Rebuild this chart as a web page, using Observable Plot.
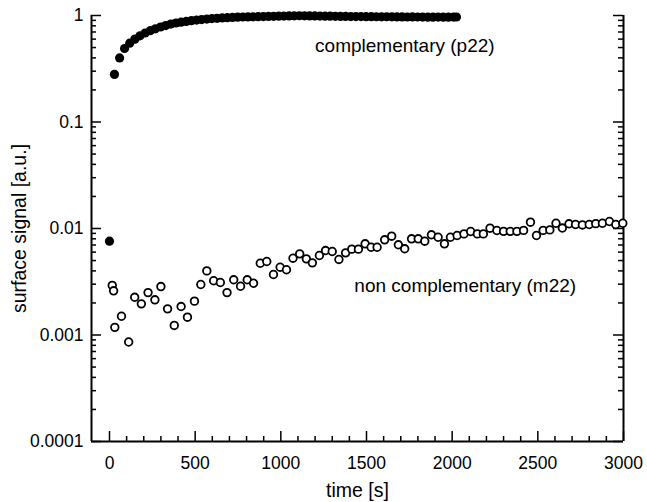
<!DOCTYPE html>
<html>
<head>
<meta charset="utf-8">
<script src="https://cdn.jsdelivr.net/npm/d3@7"></script>
<script src="https://cdn.jsdelivr.net/npm/@observablehq/plot@0.6"></script>
<style>
  html, body { margin: 0; padding: 0; background: #fff; }
</style>
</head>
<body>
<div id="chart"></div>
<script>
// ---- data ----
const compTime = [0, 29, 59, 88, 118, 148, 178, 208, 238, 268, 298, 328, 358, 388, 418, 448, 478, 508, 538, 568, 598, 628, 658, 688, 718, 748, 778, 808, 838, 868, 898, 928, 958, 988, 1018, 1048, 1078, 1108, 1138, 1168, 1198, 1228, 1258, 1288, 1318, 1348, 1378, 1408, 1438, 1468, 1498, 1528, 1558, 1588, 1618, 1648, 1678, 1708, 1738, 1768, 1798, 1828, 1858, 1888, 1918, 1948, 1978, 2008, 2025];
const compSignal = [0.0076, 0.28, 0.40, 0.49, 0.55, 0.60, 0.645, 0.685, 0.72, 0.75, 0.78, 0.805, 0.83, 0.85, 0.865, 0.88, 0.895, 0.905, 0.915, 0.925, 0.935, 0.94, 0.948, 0.955, 0.96, 0.965, 0.968, 0.97, 0.972, 0.975, 0.978, 0.98, 0.982, 0.985, 0.988, 0.99, 0.992, 0.995, 0.993, 0.99, 0.99, 0.988, 0.985, 0.985, 0.983, 0.98, 0.98, 0.978, 0.977, 0.978, 0.975, 0.975, 0.973, 0.972, 0.973, 0.972, 0.97, 0.97, 0.968, 0.97, 0.968, 0.967, 0.965, 0.965, 0.966, 0.965, 0.965, 0.966, 0.968];

const nonTime = [16, 24, 31, 70, 112, 147, 186, 225, 265, 300, 339, 378, 418, 455, 496, 533, 568, 608, 647, 686, 725, 765, 804, 841, 880, 918, 957, 996, 1033, 1071, 1110, 1149, 1184, 1225, 1261, 1300, 1339, 1378, 1414, 1453, 1492, 1527, 1562, 1606, 1647, 1686, 1723, 1763, 1802, 1840, 1879, 1918, 1955, 1990, 2029, 2069, 2108, 2147, 2182, 2221, 2261, 2300, 2339, 2378, 2417, 2457, 2492, 2531, 2570, 2606, 2643, 2682, 2720, 2760, 2800, 2838, 2877, 2918, 2955, 2996];
const nonSignal = [0.00292, 0.0026, 0.00118, 0.0015, 0.00086, 0.00226, 0.00196, 0.0025, 0.00214, 0.00285, 0.00176, 0.00123, 0.00185, 0.00147, 0.00208, 0.00298, 0.0040, 0.00323, 0.00311, 0.0025, 0.0033, 0.00287, 0.0033, 0.00306, 0.00472, 0.0049, 0.0037, 0.00433, 0.0041, 0.00526, 0.00578, 0.00519, 0.00476, 0.00558, 0.00621, 0.00608, 0.00512, 0.00591, 0.0064, 0.0064, 0.00718, 0.00667, 0.00667, 0.00783, 0.00847, 0.00703, 0.00645, 0.008, 0.008, 0.0076, 0.00873, 0.00828, 0.00718, 0.00828, 0.0086, 0.0089, 0.00937, 0.0089, 0.0089, 0.01007, 0.00958, 0.0094, 0.0094, 0.0094, 0.0096, 0.01146, 0.0086, 0.0096, 0.0097, 0.0112, 0.0101, 0.01107, 0.0109, 0.0108, 0.0109, 0.0111, 0.0112, 0.01164, 0.0109, 0.0112];

const xDomain = [-105, 3000];
const yDomain = [0.0001, 1];
const xMajorTicks = [0, 500, 1000, 1500, 2000, 2500, 3000];
const xTickLabels = ["0", "500", "1000", "1500", "2000", "2500", "3000"];
const xMinorTicks = [100, 200, 300, 400, 600, 700, 800, 900, 1100, 1200, 1300, 1400, 1600, 1700, 1800, 1900, 2100, 2200, 2300, 2400, 2600, 2700, 2800, 2900];
const yMajorTicks = [0.0001, 0.001, 0.01, 0.1, 1];
const yTickLabels = ["0.0001", "0.001", "0.01", "0.1", "1"];
const yMinorMultipliers = [2, 3, 4, 5, 6, 7, 8, 9];

const seriesLabels = ["complementary (p22)", "non complementary (m22)"];
const labelTime = [1200, 1429];
const labelSignal = [0.52, 0.00292];

const xLabel = "time [s]";
const yLabel = "surface signal [a.u.]";

// ---- build tables ----
const comp = compTime.map((t, i) => ({t, v: compSignal[i]}));
const non = nonTime.map((t, i) => ({t, v: nonSignal[i]}));
const yMinorTicks = yMajorTicks.slice(0, -1).flatMap(d => yMinorMultipliers.map(m => d * m));
const annotations = seriesLabels.map((s, i) => ({s, t: labelTime[i], v: labelSignal[i]}));

const W = 647, H = 502;
const mL = 91, mR = 24, mT = 15, mB = 61;
const frameW = W - mL - mR, frameH = H - mT - mB;
const major = 10, minor = 5;
const font = "'Liberation Sans', Arial, Helvetica, sans-serif";

const chart = Plot.plot({
  width: W,
  height: H,
  marginLeft: mL,
  marginRight: mR,
  marginTop: mT,
  marginBottom: mB,
  style: {fontFamily: font, fontSize: "17.5px", color: "#000", background: "#fff"},
  x: {domain: xDomain},
  y: {type: "log", domain: yDomain},
  marks: [
    // bottom ticks
    Plot.tickX(xMajorTicks, {x: d => d, insetTop: frameH - major, stroke: "#000", strokeWidth: 1.5}),
    Plot.tickX(xMinorTicks, {x: d => d, insetTop: frameH - minor, stroke: "#000", strokeWidth: 1.5}),
    // left ticks
    Plot.tickY(yMajorTicks, {y: d => d, insetRight: frameW - major, stroke: "#000", strokeWidth: 1.5}),
    Plot.tickY(yMinorTicks, {y: d => d, insetRight: frameW - minor, stroke: "#000", strokeWidth: 1.5}),
    // right ticks
    Plot.tickY(yMajorTicks, {y: d => d, insetLeft: frameW - major, stroke: "#000", strokeWidth: 1.5}),
    Plot.tickY(yMinorTicks, {y: d => d, insetLeft: frameW - minor, stroke: "#000", strokeWidth: 1.5}),
    // frame lines (left, right, bottom)
    Plot.ruleX([xDomain[0], xDomain[1]], {stroke: "#000", strokeWidth: 2}),
    Plot.ruleY([yDomain[0]], {stroke: "#000", strokeWidth: 2}),
    // tick labels
    Plot.axisX(xMajorTicks, {tickSize: 0, tickPadding: 15, fontSize: 17.5, tickFormat: d => xTickLabels[xMajorTicks.indexOf(d)], label: null}),
    Plot.axisY(yMajorTicks, {tickSize: 0, tickPadding: 8, fontSize: 17.5, tickFormat: d => yTickLabels[yMajorTicks.indexOf(d)], label: null}),
    // axis titles
    Plot.text([xLabel], {frameAnchor: "middle", dy: frameH / 2 + 49, fontSize: 19.5, fill: "#000"}),
    Plot.text([yLabel], {frameAnchor: "middle", dx: -(frameW / 2 + 72), rotate: -90, fontSize: 19.5, fill: "#000"}),
    // data
    Plot.dot(non, {x: "t", y: "v", r: 3.8, stroke: "#000", strokeWidth: 1.8, fill: "#fff"}),
    Plot.dot(comp, {x: "t", y: "v", r: 4.6, fill: "#000", stroke: "none"}),
    // annotations
    Plot.text(annotations, {x: "t", y: "v", text: "s", textAnchor: "start", fontSize: 19, fill: "#000"})
  ]
});
document.getElementById("chart").appendChild(chart);
</script>
</body>
</html>
